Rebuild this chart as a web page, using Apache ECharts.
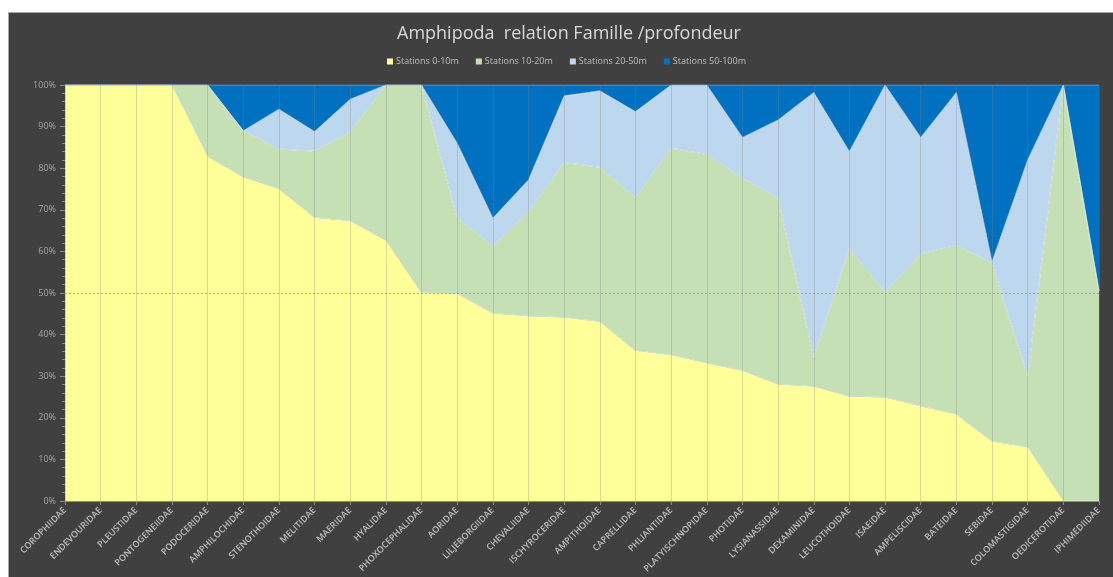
<!DOCTYPE html>
<html>
<head>
<meta charset="utf-8">
<script src="https://cdn.jsdelivr.net/npm/echarts@6/dist/echarts.min.js"></script>
<style>
html,body{margin:0;padding:0;background:#fff;width:1113px;height:577px;overflow:hidden;}
#frame{position:absolute;left:8px;top:12px;width:1120px;height:580px;background:#404040;border-left:1px solid #a6a6a6;border-top:1px solid #a6a6a6;}
#chart{position:absolute;left:0;top:0;width:1113px;height:577px;}
</style>
</head>
<body>
<div id="frame"></div>
<div id="chart"></div>
<script>
const categories = ["COROPHIIDAE","ENDEVOURIDAE","PLEUSTIDAE","PONTOGENEIIDAE","PODOCERIDAE","AMPHILOCHIDAE","STENOTHOIDAE","MELITIDAE","MAERIDAE","HYALIDAE","PHOXOCEPHALIDAE","AORIDAE","LILJEBORGIIDAE","CHEVALIIDAE","ISCHYROCERIDAE","AMPITHOIDAE","CAPRELLIDAE","PHLIANTIDAE","PLATYISCHNOPIDAE","PHOTIDAE","LYSIANASSIDAE","DEXAMINIDAE","LEUCOTHOIDAE","ISAEIDAE","AMPELISCIDAE","BATEIDAE","SEBIDAE","COLOMASTIGIDAE","OEDICEROTIDAE","IPHIMEDIIDAE"];
const seriesNames = ["Stations 0-10m","Stations 10-20m","Stations 20-50m","Stations 50-100m"];
const st0_10 = [100,100,100,100,82.8,77.8,75.0,68.1,67.3,62.6,50.0,49.8,45.1,44.4,44.1,43.1,36.1,35.1,33.1,31.3,28.0,27.5,25.1,24.9,22.8,20.8,14.3,12.9,0,0];
const st10_20 = [0,0,0,0,17.2,11.2,9.6,16.0,21.5,37.4,50.0,18.2,16.2,25.1,37.3,37.1,36.9,49.7,50.2,46.3,44.8,7.0,35.6,25.3,36.6,40.7,42.8,17.1,100,50.5];
const st20_50 = [0,0,0,0,0,0,9.6,4.7,7.8,0,0,18.0,6.7,7.7,16.0,18.4,20.6,15.2,16.7,9.8,18.8,63.7,23.3,49.8,28.0,36.7,0.4,52.0,0,0];
const st50_100 = [0,0,0,0,0,11.0,5.8,11.2,3.4,0,0,14.0,32.0,22.8,2.6,1.4,6.4,0,0,12.6,8.4,1.8,16.0,0,12.6,1.8,42.5,18.0,0,49.5];
const yTicks = [0,10,20,30,40,50,60,70,80,90,100];
const colors = ["#FFFF99","#C5E0B4","#BDD7EE","#0070C0"];
const values = [st0_10, st10_20, st20_50, st50_100];

const chart = echarts.init(document.getElementById('chart'), null, {renderer:'canvas'});
const series = values.map((v,i)=>({
  name: seriesNames[i],
  type: 'line',
  stack: 'total',
  data: v,
  symbol: 'none',
  smooth: false,
  itemStyle: {color: colors[i]},
  lineStyle: {color: i===3 ? 'rgba(120,170,220,0.9)' : 'rgba(255,255,255,0.55)', width: 1},
  areaStyle: {color: colors[i], opacity: 1},
  z: 2,
  emphasis: {disabled: true},
  markLine: i===3 ? {
    silent: true, symbol: 'none', label: {show:false},
    lineStyle: {type: [2,2], color: 'rgba(150,150,150,0.75)', width: 1},
    data: [{yAxis: 50}], z: 6
  } : undefined
}));

chart.setOption({
  backgroundColor: 'transparent',
  animation: false,
  title: {
    text: 'Amphipoda  relation Famille /profondeur',
    left: 392, top: 20,
    textStyle: {color: '#d9d9d9', fontSize: 18, fontWeight: 'normal', fontFamily: 'Open Sans'}
  },
  legend: {
    data: seriesNames,
    top: 57, left: 387, padding: 0,
    icon: 'rect', itemWidth: 6, itemHeight: 6, itemGap: 17,
    textStyle: {color: '#bfbfbf', fontSize: 9, fontFamily: 'Open Sans', padding: [0,0,0,-2]}
  },
  grid: {left: 65, right: 14, top: 85, bottom: 76},
  xAxis: {
    type: 'category',
    data: categories,
    boundaryGap: false,
    z: 5,
    axisLine: {show: true, lineStyle: {color: '#8c8c8c'}},
    axisTick: {show: true, length: 4, interval: 0, lineStyle: {color: '#8c8c8c'}},
    axisLabel: {interval: 0, rotate: 45, margin: 8, color: '#bfbfbf', fontSize: 9, fontWeight: 600, fontFamily: 'Open Sans'},
    splitLine: {show: true, interval: 0, lineStyle: {color: 'rgba(130,130,130,0.3)', width: 1}}
  },
  yAxis: {
    type: 'value', min: 0, max: 100, interval: 10,
    axisLine: {show: true, lineStyle: {color: '#8c8c8c'}},
    axisTick: {show: true, length: 5, lineStyle: {color: '#8c8c8c'}},
    minorTick: {show: true, splitNumber: 5, length: 3, lineStyle: {color: '#8c8c8c'}},
    axisLabel: {color: '#a6a6a6', fontSize: 9, margin: 9, fontFamily: 'Open Sans',
      formatter: v => yTicks.includes(v) ? v + '%' : ''},
    splitLine: {show: false}
  },
  series: series
});
</script>
</body>
</html>
